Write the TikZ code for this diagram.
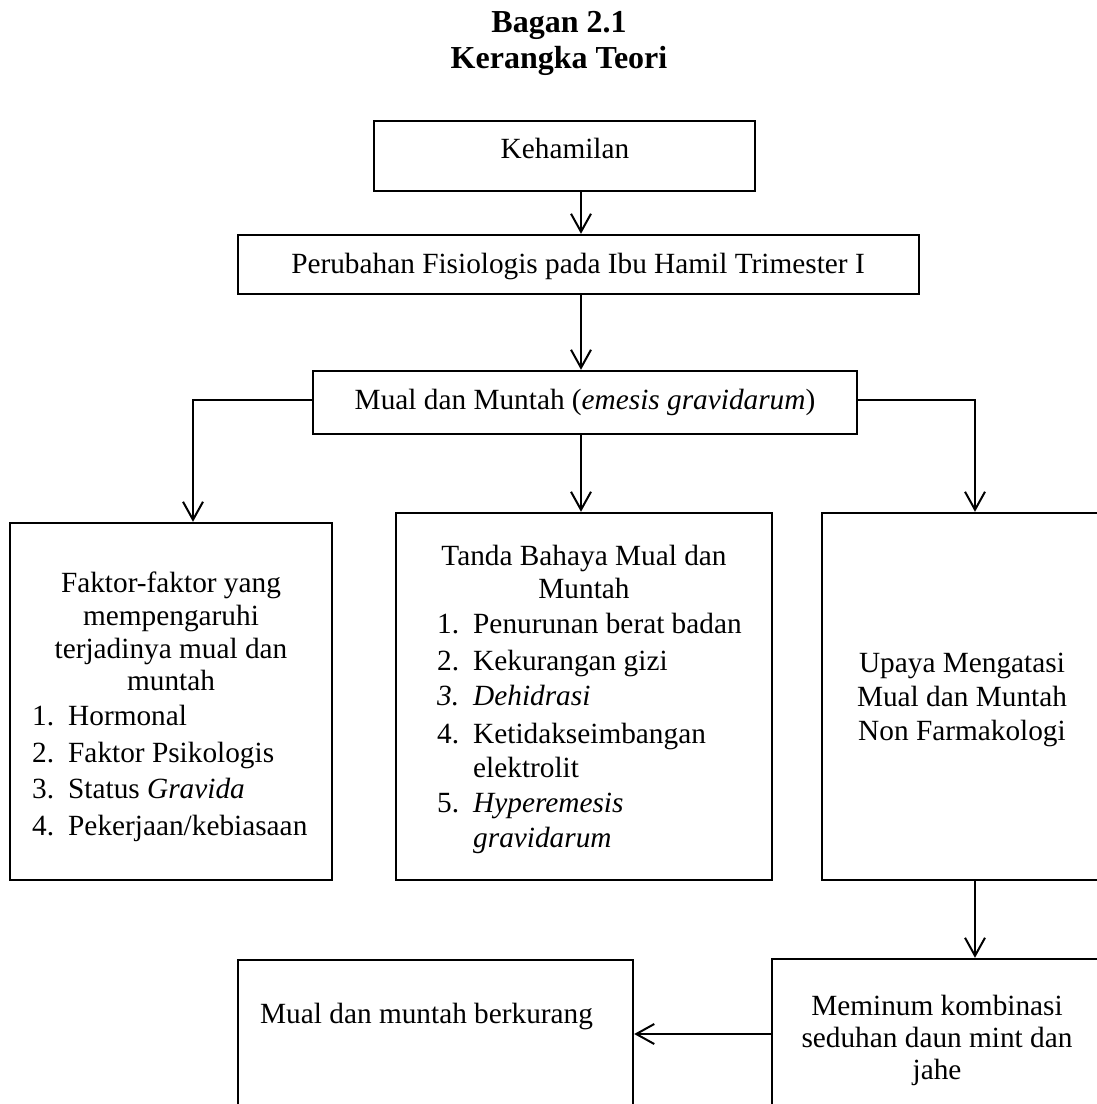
\documentclass[tikz,border=0pt]{standalone}
\usepackage{fontspec}
\setmainfont{Liberation Serif}
\usetikzlibrary{arrows.meta}
\begin{document}
\begin{tikzpicture}[x=1pt,y=-1pt,
  box/.style={draw, line width=2.4pt, inner sep=0pt},
  txt/.style={font=\fontsize{29.3}{34}\selectfont, inner sep=0pt, anchor=base},
  txtl/.style={txt, anchor=base west},
  ttl/.style={font=\fontsize{32}{38}\selectfont\bfseries, inner sep=0pt, anchor=base},
  arr/.style={line width=2pt, -{Straight Barb[length=18pt,width=20pt]}}
]
\useasboundingbox (0,0) rectangle (1097,1104);
\clip (0,0) rectangle (1097,1104);

% title
\node[ttl] (t1) at (559,32) {Bagan 2.1};
\node[ttl] (t2) at (559,68) {Kerangka Teori};

% boxes
\node[box, minimum width=381pt, minimum height=70pt] (keh) at (564.5,156) {};
\node[box, minimum width=681pt, minimum height=59pt] (per) at (578.5,264.5) {};
\node[box, minimum width=544pt, minimum height=63pt] (mual) at (585,402.5) {};
\node[box, minimum width=322pt, minimum height=357pt] (fak) at (171,701.5) {};
\node[box, minimum width=376pt, minimum height=367pt] (tanda) at (584,696.5) {};
\node[box, minimum width=286pt, minimum height=367pt] (upaya) at (965,696.5) {};
\node[box, minimum width=336pt, minimum height=170pt] (minum) at (940,1044) {};
\node[box, minimum width=395pt, minimum height=170pt] (kurang) at (435.5,1045) {};

% texts
\node[txt] (tkeh) at (565,158) {Kehamilan};
\node[txt] (tper) at (578,273) {Perubahan Fisiologis pada Ibu Hamil Trimester I};
\node[txt] (tmual) at (585,409) {Mual dan Muntah (\textit{emesis gravidarum})};

\node[txt] (f1) at (171,592) {Faktor-faktor yang};
\node[txt] (f2) at (171,625) {mempengaruhi};
\node[txt] (f3) at (171,658) {terjadinya mual dan};
\node[txt] (f4) at (171,690) {muntah};
\node[txtl] (fn1) at (32,725) {1.};
\node[txtl] (fi1) at (68,725) {Hormonal};
\node[txtl] (fn2) at (32,762) {2.};
\node[txtl] (fi2) at (68,762) {Faktor Psikologis};
\node[txtl] (fn3) at (32,798) {3.};
\node[txtl] (fi3) at (68,798) {Status \textit{Gravida}};
\node[txtl] (fn4) at (32,835) {4.};
\node[txtl] (fi4) at (68,835) {Pekerjaan/kebiasaan};

\node[txt] (d1) at (584,565) {Tanda Bahaya Mual dan};
\node[txt] (d2) at (584,598) {Muntah};
\node[txtl] (dn1) at (437,633) {1.};
\node[txtl] (di1) at (473,633) {Penurunan berat badan};
\node[txtl] (dn2) at (437,670) {2.};
\node[txtl] (di2) at (473,670) {Kekurangan gizi};
\node[txtl] (dn3) at (437,705) {\textit{3.}};
\node[txtl] (di3) at (473,705) {\textit{Dehidrasi}};
\node[txtl] (dn4) at (437,743) {4.};
\node[txtl] (di4) at (473,743) {Ketidakseimbangan};
\node[txtl] (di4b) at (473,777) {elektrolit};
\node[txtl] (dn5) at (437,812) {5.};
\node[txtl] (di5) at (473,812) {\textit{Hyperemesis}};
\node[txtl] (di5b) at (473,847) {\textit{gravidarum}};

\node[txt] (u1) at (962,672) {Upaya Mengatasi};
\node[txt] (u2) at (962,706) {Mual dan Muntah};
\node[txt] (u3) at (962,740) {Non Farmakologi};

\node[txt] (m1) at (937,1015) {Meminum kombinasi};
\node[txt] (m2) at (937,1047) {seduhan daun mint dan};
\node[txt] (m3) at (937,1079) {jahe};

\node[txtl] (k1) at (260,1023) {Mual dan muntah berkurang};

% connectors
\draw[arr] ([xshift=16.5pt]keh.south) -- ([xshift=16.5pt]keh.south |- per.north);
\draw[arr] ([xshift=2.5pt]per.south) -- ([xshift=2.5pt]per.south |- mual.north);
\draw[arr] ([yshift=2.5pt]mual.west) -| ([xshift=22pt]fak.north);
\draw[arr] ([xshift=-4pt]mual.south) -- ([xshift=-4pt]mual.south |- tanda.north);
\draw[arr] ([yshift=2.5pt]mual.east) -| ([xshift=10pt]upaya.north);
\draw[arr] ([xshift=10pt]upaya.south) -- ([xshift=10pt]upaya.south |- minum.north);
\draw[arr] (minum.west |- 0,1034) -- (kurang.east |- 0,1034);
\end{tikzpicture}
\end{document}
